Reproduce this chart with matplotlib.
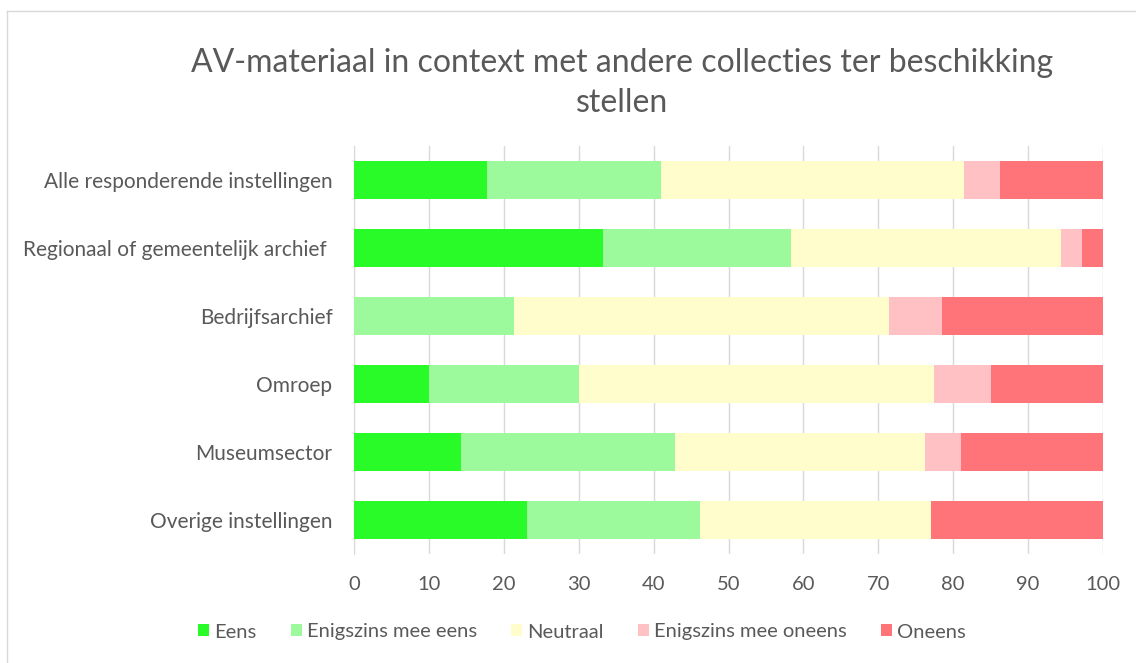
import numpy as np
import matplotlib
matplotlib.use('Agg')
import matplotlib.pyplot as plt
from matplotlib.lines import Line2D

plt.rcParams['font.family'] = ['Lato', 'DejaVu Sans']

categories = ['Alle responderende instellingen', 'Regionaal of gemeentelijk archief ',
              'Bedrijfsarchief', 'Omroep', 'Museumsector', 'Overige instellingen']
series = ['Eens', 'Enigszins mee eens', 'Neutraal', 'Enigszins mee oneens', 'Oneens']
values = {
    'Eens':                 [17.7, 33.3, 0.0, 10.0, 14.3, 23.1],
    'Enigszins mee eens':   [23.3, 25.0, 21.4, 20.0, 28.6, 23.1],
    'Neutraal':             [40.4, 36.1, 50.0, 47.5, 33.3, 30.8],
    'Enigszins mee oneens': [4.9, 2.8, 7.1, 7.5, 4.8, 0.0],
    'Oneens':               [13.7, 2.8, 21.5, 15.0, 19.0, 23.0],
}
colors = ['#29FB29', '#9CF99C', '#FFFDCB', '#FFC1C4', '#FF7479']
text_col = '#595959'

fig = plt.figure(figsize=(11.36, 6.63), dpi=100)
ax = fig.add_axes([354/1136, 1 - 554/663, (1103 - 354)/1136, (554 - 146)/663])

y = np.arange(len(categories))
left = np.zeros(len(categories))
for s, c in zip(series, colors):
    v = np.array(values[s])
    ax.barh(y, v, left=left, height=0.57, color=c, label=s, zorder=3)
    left += v

ax.set_ylim(len(categories) - 0.5, -0.5)
ax.set_xlim(0, 100)
ax.set_xticks(np.arange(0, 101, 10))
ax.set_yticks(y)
ax.set_yticklabels(categories)
ax.xaxis.grid(True, color='#D9D9D9', linewidth=1, zorder=0)
for sp in ['top', 'right', 'bottom']:
    ax.spines[sp].set_visible(False)
ax.spines['left'].set_color('#D9D9D9')
ax.tick_params(axis='both', length=0, colors=text_col)
ax.tick_params(axis='x', pad=16, labelsize=14.5)
ax.tick_params(axis='y', pad=15.5, labelsize=15)

fig.text(622/1136, 1 - 83/663, 'AV-materiaal in context met andere collecties ter beschikking\nstellen',
         ha='center', va='center', fontsize=23, color=text_col, linespacing=1.45)

fig.legend(loc='center', bbox_to_anchor=(582/1136, 1 - 632/663), ncol=5, frameon=False,
           handlelength=0.55, handleheight=0.55, handletextpad=0.25, columnspacing=1.7,
           fontsize=14.5, labelcolor=text_col)

# chart border (top and left visible)
fig.add_artist(Line2D([7/1136, 1], [1 - 11/663, 1 - 11/663], color='#D9D9D9', lw=1))
fig.add_artist(Line2D([7/1136, 7/1136], [0, 1 - 11/663], color='#D9D9D9', lw=1))

fig.savefig('out.png', dpi=100)
